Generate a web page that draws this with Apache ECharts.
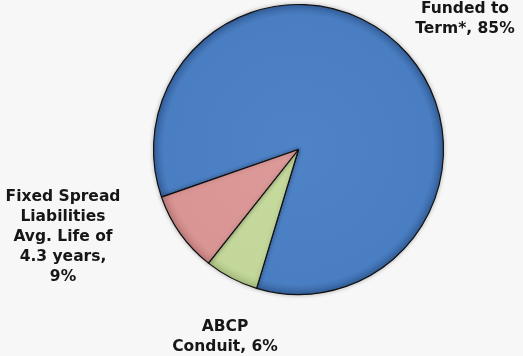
<!DOCTYPE html>
<html>
<head>
<meta charset="utf-8">
<script src="https://cdn.jsdelivr.net/npm/echarts@6/dist/echarts.min.js"></script>
<style>
  html, body { margin: 0; padding: 0; background: #f7f7f7; }
  #chart { width: 523px; height: 356px; }
</style>
</head>
<body>
<div id="chart"></div>
<script>
// Funding mix (percent of total)
const categories = [
  'Funded to\nTerm*',
  'ABCP\nConduit',
  'Fixed Spread\nLiabilities\nAvg. Life of\n4.3 years'
];
const shares = [85, 6, 9];

// Label anchors (px) for each slice, in the same order as categories
const labelAnchors = [
  { x: 465, y: 19 },
  { x: 225, y: 337 },
  { x: 63, y: 236.5 }
];

const cx = 298.5, cy = 149.5, r = 145;

function shaded(inner, mid, rim) {
  return {
    type: 'radial', x: cx, y: cy, r: r, global: true,
    colorStops: [
      { offset: 0, color: inner },
      { offset: 0.93, color: mid },
      { offset: 1, color: rim }
    ]
  };
}

const sliceColors = [
  shaded('#4f83c7', '#4a7ec2', '#35629f'),
  shaded('#c6da9e', '#c3d79a', '#aabf82'),
  shaded('#dc9a99', '#d99594', '#c17f7e')
];

const chart = echarts.init(document.getElementById('chart'), null, { renderer: 'canvas' });

chart.setOption({
  backgroundColor: '#f7f7f7',
  animation: false,
  series: [{
    type: 'pie',
    center: [cx, cy],
    radius: [0, r],
    startAngle: 199.2,
    clockwise: true,
    avoidLabelOverlap: false,
    data: categories.map((name, i) => ({
      name: name,
      value: shares[i],
      itemStyle: { color: sliceColors[i] }
    })),
    itemStyle: {
      borderColor: '#111',
      borderWidth: 1.2,
      shadowColor: 'rgba(0,0,0,0.25)',
      shadowBlur: 4
    },
    label: {
      show: true,
      formatter: p => p.name + ',' + (p.dataIndex === 2 ? '\n' : ' ') + p.value + '%',
      fontFamily: 'DejaVu Sans',
      fontWeight: 'bold',
      fontSize: 15.5,
      lineHeight: 20,
      color: '#161616',
      align: 'center'
    },
    labelLine: { show: false },
    labelLayout: p => ({
      x: labelAnchors[p.dataIndex].x,
      y: labelAnchors[p.dataIndex].y,
      align: 'center',
      verticalAlign: 'middle'
    }),
    emphasis: { disabled: true }
  }]
});
</script>
</body>
</html>
